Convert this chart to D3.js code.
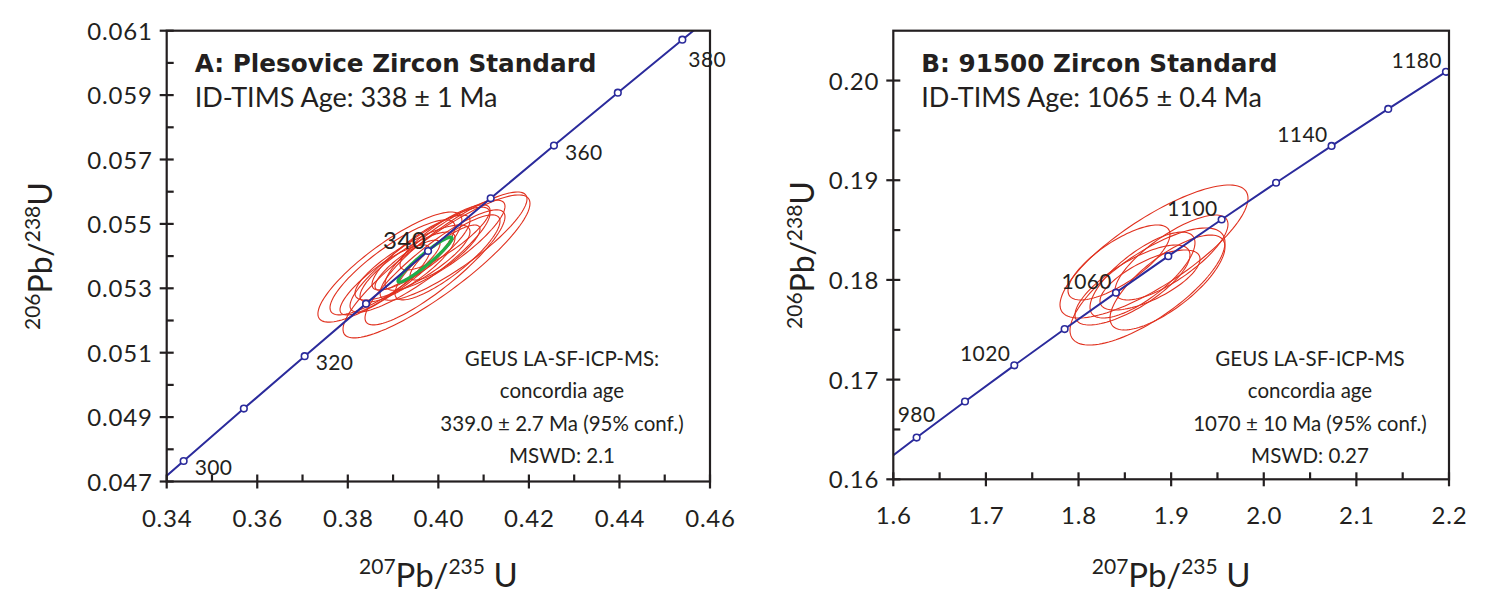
<!DOCTYPE html>
<html><head><meta charset="utf-8">
<script src="https://cdn.jsdelivr.net/npm/d3@7"></script>
<style>
html,body{margin:0;padding:0;background:#fff;}
svg{display:block;}
text{font-family:Lato,"Open Sans",sans-serif;fill:#231f20;}
text.ttl{font-family:"DejaVu Sans",sans-serif;font-weight:bold;}
</style></head>
<body>
<svg id="chart" width="1488" height="600"></svg>
<script>
// ---------- DATA ----------
// Panel A: Plesovice (concordia ages in Ma, with ratios)
const concAgesA = [290,300,310,320,330,340,350,360,370,380,390];
const concX_A = [0.33057,0.34374,0.35704,0.37047,0.38403,0.39773,0.41156,0.42553,0.43964,0.45389,0.46828];
const concY_A = [0.046013,0.047637,0.049264,0.050893,0.052524,0.054158,0.055795,0.057434,0.059075,0.060720,0.062366];
const labelAgesA = [300,320,340,360,380];
const xTicksA = [0.34,0.36,0.38,0.40,0.42,0.44,0.46];
const yTicksA = [0.047,0.049,0.051,0.053,0.055,0.057,0.059,0.061];
// error ellipses: [x, y, 2sigma x, 2sigma y, rho]
const ellipsesA = [
  [0.3893,0.05366,0.0159,0.00171,0.85],
  [0.39959,0.05368,0.02065,0.00222,0.88],
  [0.40335,0.05431,0.01623,0.00168,0.87],
  [0.38987,0.05365,0.0138,0.001475,0.85],
  [0.39595,0.05389,0.01546,0.00163,0.88],
  [0.39617,0.05411,0.01082,0.001165,0.85],
  [0.40147,0.05434,0.01325,0.0014,0.86],
  [0.39319,0.05366,0.01049,0.001087,0.83],
  [0.40202,0.05396,0.0116,0.00132,0.85],
  [0.38822,0.05326,0.00994,0.001087,0.85],
  [0.40147,0.05458,0.00994,0.00101,0.84],
  [0.39319,0.05372,0.00718,0.000776,0.85],
  [0.40147,0.05411,0.00773,0.000854,0.85],
  [0.39429,0.0538,0.0127,0.001165,0.82],
  [0.39926,0.05365,0.01546,0.001786,0.88]
];
const concordiaEllipseA = [0.39705,0.05389,0.00596,0.000699,0.95];
const titleA = "A: Plesovice Zircon Standard";
const subtitleA = "ID-TIMS Age: 338 \u00B1 1 Ma";
const noteA = ["GEUS LA-SF-ICP-MS:","concordia age","339.0 \u00B1 2.7 Ma (95% conf.)","MSWD: 2.1"];

// Panel B: 91500
const concAgesB = [960,980,1000,1020,1040,1060,1080,1100,1120,1140,1160,1180,1200];
const concX_B = [1.57399,1.62519,1.67741,1.73067,1.78499,1.84039,1.89689,1.95452,2.01329,2.07323,2.13436,2.19671,2.2603];
const concY_B = [0.16058,0.164186,0.167804,0.171433,0.175073,0.178724,0.182387,0.186061,0.189746,0.193443,0.197151,0.200871,0.204603];
const labelAgesB = [980,1020,1060,1100,1140,1180];
const xTicksB = [1.6,1.7,1.8,1.9,2.0,2.1,2.2];
const yTicksB = [0.16,0.17,0.18,0.19,0.20];
const ellipsesB = [
  [1.88148,0.18285,0.1015,0.00667,0.80],
  [1.87446,0.17934,0.08368,0.00587,0.75],
  [1.84369,0.18175,0.05506,0.00376,0.75],
  [1.85826,0.17949,0.06208,0.00401,0.75],
  [1.89606,0.17974,0.06208,0.00476,0.75],
  [1.90037,0.18225,0.0610,0.00426,0.78],
  [1.86906,0.18049,0.05668,0.00431,0.75],
  [1.87716,0.17999,0.054,0.00301,0.70]
];
const titleB = "B: 91500 Zircon Standard";
const subtitleB = "ID-TIMS Age: 1065 \u00B1 0.4 Ma";
const noteB = ["GEUS LA-SF-ICP-MS","concordia age","1070 \u00B1 10 Ma (95% conf.)","MSWD: 0.27"];

// ---------- DRAW ----------
const svg = d3.select("#chart");
const INK = "#231f20", BLUE = "#2b2b9c", RED = "#e0301e", GREEN = "#1fae4a";

function ellipsePath(e, x, y){
  const [cx,cy,sx,sy,r] = e, s = Math.sqrt(1-r*r);
  const pts = d3.range(0, 361, 3).map(a => {
    const t = a*Math.PI/180;
    return [x(cx + sx*Math.cos(t)), y(cy + sy*(r*Math.cos(t) + s*Math.sin(t)))];
  });
  return d3.line()(pts) + "Z";
}

function panel(o){
  const x = d3.scaleLinear().domain(o.xDom).range([o.left, o.right]);
  const y = d3.scaleLinear().domain(o.yDom).range([o.bottom, o.top]);
  const g = svg.append("g");
  const cid = "clip"+o.id;
  svg.append("clipPath").attr("id",cid).append("rect")
    .attr("x",o.left).attr("y",o.top).attr("width",o.right-o.left).attr("height",o.bottom-o.top);
  const pg = g.append("g").attr("clip-path",`url(#${cid})`);

  // ellipses
  pg.selectAll("path.ell").data(o.ellipses).join("path").attr("class","ell")
    .attr("d", d => ellipsePath(d,x,y)).attr("fill","none").attr("stroke",RED).attr("stroke-width",1.1);
  if (o.cEll) pg.append("path").attr("d", ellipsePath(o.cEll,x,y))
    .attr("fill","none").attr("stroke",GREEN).attr("stroke-width",3.2);

  // concordia
  const pts = o.ages.map((a,i)=>({age:a, x:o.cx[i], y:o.cy[i]}));
  pg.append("path").datum(pts).attr("d", d3.line().x(d=>x(d.x)).y(d=>y(d.y)).curve(d3.curveMonotoneX))
    .attr("fill","none").attr("stroke",BLUE).attr("stroke-width",2);
  pg.selectAll("circle").data(pts.filter(d=>d.x>=o.xDom[0]&&d.x<=o.xDom[1]&&d.y<=o.yDom[1]))
    .join("circle").attr("cx",d=>x(d.x)).attr("cy",d=>y(d.y)).attr("r",3.3)
    .attr("fill","#fff").attr("stroke",BLUE).attr("stroke-width",1.6);

  // age labels
  pts.filter(d=>o.labels.includes(d.age)).forEach(d=>{
    const p = o.labelPos(d.age, x(d.x), y(d.y));
    g.append("text").attr("x",p[0]).attr("y",p[1]).attr("text-anchor",p[2])
      .attr("font-size",p[3]||21).attr("letter-spacing",0.4).text(d.age);
  });

  // axes
  const maj = 7;
  const box = g.append("g").attr("stroke",INK).attr("stroke-width",2.2).attr("fill","none");
  box.append("rect").attr("x",o.left).attr("y",o.top).attr("width",o.right-o.left).attr("height",o.bottom-o.top);
  const xAx = d3.axisBottom(x).tickValues(o.xTicks).tickSize(0).tickFormat(o.xFmt);
  const ax = g.append("g").attr("transform",`translate(0,${o.bottom})`).call(xAx);
  ax.select(".domain").remove();
  ax.selectAll("text").attr("dy",0).attr("y",45).attr("font-size",24).attr("letter-spacing",0.8).attr("fill",INK);
  const yAx = d3.axisLeft(y).tickValues(o.yTicks).tickSize(0).tickFormat(o.yFmt);
  const ay = g.append("g").attr("transform",`translate(${o.left},0)`).call(yAx);
  ay.select(".domain").remove();
  ay.selectAll("text").attr("x",-14).attr("dy","0.36em").attr("font-size",24).attr("letter-spacing",0.8).attr("fill",INK);
  ax.attr("font-family",null); ay.attr("font-family",null);
  // major ticks crossing, minor inside
  o.xTicks.forEach(v=>box.append("line").attr("x1",x(v)).attr("x2",x(v)).attr("y1",o.bottom-maj).attr("y2",o.bottom+maj));
  o.yTicks.forEach(v=>box.append("line").attr("y1",y(v)).attr("y2",y(v)).attr("x1",o.left-maj).attr("x2",o.left+maj));
  for (let i=0;i<o.xTicks.length-1;i++){ const v=(o.xTicks[i]+o.xTicks[i+1])/2;
    box.append("line").attr("x1",x(v)).attr("x2",x(v)).attr("y1",o.bottom-maj).attr("y2",o.bottom); }
  for (let i=0;i<o.yTicks.length-1;i++){ const v=(o.yTicks[i]+o.yTicks[i+1])/2;
    box.append("line").attr("y1",y(v)).attr("y2",y(v)).attr("x1",o.left).attr("x2",o.left+maj); }
  if (o.yTicks[o.yTicks.length-1] < o.yDom[1]) {
    const v = o.yTicks[o.yTicks.length-1] + (o.yTicks[1]-o.yTicks[0])/2;
    if (v < o.yDom[1]) box.append("line").attr("y1",y(v)).attr("y2",y(v)).attr("x1",o.left).attr("x2",o.left+maj);
  }

  // titles
  g.append("text").attr("class","ttl").attr("x",o.left+28).attr("y",o.top+41)
    .style("font-size","24.7px").text(o.title);
  g.append("text").attr("x",o.left+28).attr("y",o.top+76).attr("font-size",27).text(o.subtitle);
  o.note.forEach((t,i)=>g.append("text").attr("x",o.noteX).attr("y",366+i*32.3)
    .attr("text-anchor","middle").attr("font-size",20.5).text(t));

  // axis titles
  const xl = g.append("text").attr("x",(o.left+o.right)/2).attr("y",587).attr("text-anchor","middle").attr("font-size",33);
  xl.append("tspan").attr("font-size",21).attr("dy",-13).text(o.xSup1);
  xl.append("tspan").attr("dy",13).text("Pb/");
  xl.append("tspan").attr("font-size",21).attr("dy",-13).text(o.xSup2);
  xl.append("tspan").attr("dy",13).text(" U");
  const yl = g.append("text").attr("transform",`translate(${o.yLabX},${(o.top+o.bottom)/2}) rotate(-90)`)
    .attr("text-anchor","middle").attr("font-size",32);
  yl.append("tspan").attr("font-size",21).attr("dy",-12).text(o.ySup1);
  yl.append("tspan").attr("dy",12).text("Pb/");
  yl.append("tspan").attr("font-size",21).attr("dy",-12).text(o.ySup2);
  yl.append("tspan").attr("dy",12).text("U");
}

panel({id:"A", left:166.7, right:710, top:30.7, bottom:481.5,
  xDom:[0.34,0.46], yDom:[0.047,0.061],
  xTicks:xTicksA, yTicks:yTicksA, xFmt:d3.format(".2f"), yFmt:d3.format(".3f"),
  ages:concAgesA, cx:concX_A, cy:concY_A, labels:labelAgesA,
  labelPos:(a,px,py)=> a===340 ? [px-2,py-2,"end",24] 
                     : a===380 ? [px+6,py+27,"start"] : [px+11,py+14,"start"],
  ellipses:ellipsesA, cEll:concordiaEllipseA,
  title:titleA, subtitle:subtitleA, note:noteA, noteX:562,
  xSup1:"207", xSup2:"235", ySup1:"206", ySup2:"238", yLabX:52});

panel({id:"B", left:893.3, right:1449, top:30.7, bottom:479.3,
  xDom:[1.6,2.2], yDom:[0.16,0.205],
  xTicks:xTicksB, yTicks:yTicksB, xFmt:d3.format(".1f"), yFmt:d3.format(".2f"),
  ages:concAgesB, cx:concX_B, cy:concY_B, labels:labelAgesB,
  labelPos:(a,px,py)=> a===980 ? [px,py-16,"middle"] : [px-4,py-4,"end"],
  ellipses:ellipsesB, cEll:null,
  title:titleB, subtitle:subtitleB, note:noteB, noteX:1310,
  xSup1:"207", xSup2:"235", ySup1:"206", ySup2:"238", yLabX:814});
</script>
</body></html>
